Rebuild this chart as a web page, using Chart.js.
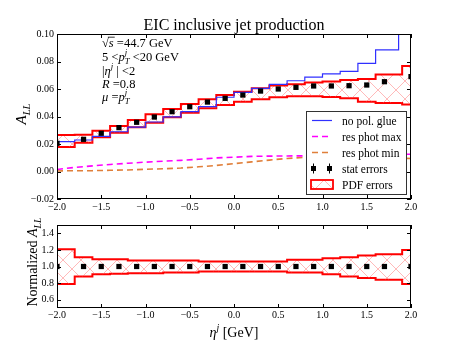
<!DOCTYPE html>
<html>
<head>
<meta charset="utf-8">
<script src="https://cdn.jsdelivr.net/npm/chart.js@4.4.1/dist/chart.umd.min.js"></script>
<style>
  html, body { margin: 0; padding: 0; background: #fff; }
  #wrap { position: relative; width: 457px; height: 343px; }
  #topChart { position: absolute; left: 0; top: 0; }
  #botChart { position: absolute; left: 0; top: 215px; }
</style>
</head>
<body>
<div id="wrap">
  <canvas id="topChart" width="457" height="215"></canvas>
  <canvas id="botChart" width="457" height="128"></canvas>
</div>
<script>
// bin edges of the step histograms (eta^j)
const binEdges  = [-2.0, -1.8, -1.6, -1.4, -1.2, -1.0, -0.8, -0.6, -0.4, -0.2, 0.0, 0.2, 0.4, 0.6, 0.8, 1.0, 1.2, 1.4, 1.6, 1.9, 2.0];
const glueEdges = [-2.0, -1.8, -1.6, -1.4, -1.2, -1.0, -0.8, -0.6, -0.4, -0.2, 0.0, 0.2, 0.4, 0.6, 0.8, 1.0, 1.2, 1.4, 1.6, 1.86, 2.0];

// top panel: A_LL
const pdfUpper  = [0.0265, 0.0267, 0.0297, 0.0331, 0.0375, 0.0416, 0.0455, 0.0491, 0.0525, 0.0556, 0.0580, 0.0605, 0.0625, 0.0635, 0.0648, 0.0655, 0.0665, 0.0672, 0.0705, 0.0768];
const pdfLower  = [0.0178, 0.0210, 0.0249, 0.0282, 0.0321, 0.0355, 0.0394, 0.0428, 0.0460, 0.0484, 0.0508, 0.0525, 0.0540, 0.0547, 0.0547, 0.0542, 0.0532, 0.0508, 0.0498, 0.0488];
const noPolGlue = [0.0217, 0.0229, 0.0255, 0.0289, 0.0323, 0.0360, 0.0398, 0.0435, 0.0472, 0.0540, 0.0575, 0.0605, 0.0634, 0.0660, 0.0686, 0.0710, 0.0728, 0.0787, 0.0884, 0.1300];

const pointX = [-2.0, -1.7, -1.5, -1.3, -1.1, -0.9, -0.7, -0.5, -0.3, -0.1, 0.1, 0.3, 0.5, 0.7, 0.9, 1.1, 1.3, 1.5, 1.7, 2.0];
const pointY = [0.0205, 0.0234, 0.0278, 0.0319, 0.0358, 0.0396, 0.0435, 0.0471, 0.0505, 0.0532, 0.0556, 0.0585, 0.0600, 0.0612, 0.0622, 0.0622, 0.0624, 0.0629, 0.0653, 0.0690];

const photX   = [-2.0, -1.8, -1.6, -1.4, -1.2, -1.0, -0.8, -0.6, -0.4, -0.2, 0.0, 0.2, 0.4, 0.6, 0.8, 1.0, 1.2, 1.4, 1.6, 1.8, 2.0];
const photMax = [0.0015, 0.0030, 0.0041, 0.0051, 0.0060, 0.0068, 0.0075, 0.0081, 0.0089, 0.0099, 0.0104, 0.0110, 0.0112, 0.0113, 0.0114, 0.0116, 0.0118, 0.0120, 0.0122, 0.0124, 0.0126];
const photMin = [0.0004, 0.0006, 0.0006, 0.0009, 0.0011, 0.0016, 0.0020, 0.0025, 0.0034, 0.0044, 0.0057, 0.0070, 0.0083, 0.0095, 0.0103, 0.0106, 0.0106, 0.0104, 0.0101, 0.0098, 0.0095];

// bottom panel: normalized A_LL
const normUpper = [1.208, 1.112, 1.088, 1.088, 1.072, 1.072, 1.072, 1.072, 1.060, 1.060, 1.060, 1.060, 1.060, 1.080, 1.080, 1.100, 1.112, 1.132, 1.148, 1.200];
const normLower = [0.790, 0.880, 0.908, 0.912, 0.920, 0.920, 0.928, 0.928, 0.940, 0.940, 0.940, 0.940, 0.940, 0.928, 0.928, 0.908, 0.880, 0.860, 0.840, 0.788];
const normPoint = [1.0, 1.0, 1.0, 1.0, 1.0, 1.0, 1.0, 1.0, 1.0, 1.0, 1.0, 1.0, 1.0, 1.0, 1.0, 1.0, 1.0, 1.0, 1.0, 1.0];

// tick labels
const xTicks    = [-2.0, -1.5, -1.0, -0.5, 0.0, 0.5, 1.0, 1.5, 2.0];
const yTicksTop = [-0.02, 0.00, 0.02, 0.04, 0.06, 0.08, 0.10];
const yTicksBot = [0.6, 0.8, 1.0, 1.2, 1.4];

const SERIF = '"Liberation Serif", "DejaVu Serif", serif';
const tickFont = { family: SERIF, size: 10 };

// histogram points: value i holds from edge i to edge i+1
function stepPoints(edges, vals) {
  return edges.map((x, i) => ({ x, y: vals[Math.min(i, vals.length - 1)] }));
}
function xy(xs, ys) {
  return xs.map((x, i) => ({ x, y: ys[i] }));
}
function minusSign(s) { return s.replace('-', '\u2212'); }

// matplotlib style 'x' hatch
function makeHatch() {
  const c = document.createElement('canvas');
  c.width = 18; c.height = 18;
  const g = c.getContext('2d');
  g.strokeStyle = 'rgba(255, 90, 90, 0.42)';
  g.lineWidth = 1;
  g.beginPath();
  g.moveTo(0, 0); g.lineTo(18, 18);
  g.moveTo(18, 0); g.lineTo(0, 18);
  g.stroke();
  return g.createPattern(c, 'repeat');
}
const hatch = makeHatch();

// draw rich text (italic, sub/superscript runs); returns width
function textRuns(ctx, x, y, runs, size, draw) {
  let cx = x, prevStart = x, prevEnd = x;
  for (const r of runs) {
    const small = r.sub || r.sup;
    const s = small ? size * 0.7 : size;
    ctx.font = (r.it ? 'italic ' : '') + s + 'px ' + SERIF;
    const w = ctx.measureText(r.t).width;
    const start = r.stack ? prevStart : cx;
    const dy = r.sub ? size * 0.28 : r.sup ? -size * 0.42 : 0;
    if (draw) {
      ctx.fillText(r.t, start, y + dy);
      if (r.over) {
        ctx.fillRect(start - 1, y - size * 0.82, w + 2, 0.8);
      }
    }
    if (r.stack) {
      cx = Math.max(prevEnd, start + w);
    } else {
      prevStart = start; prevEnd = start + w; cx = start + w;
    }
  }
  return cx - x;
}

function setTicks(list) {
  return scale => { scale.ticks = list.map(v => ({ value: v })); };
}

// frame + inward ticks on all four sides
const frameTicks = {
  id: 'frameTicks',
  afterDraw(chart) {
    const { ctx, chartArea: a, scales: { x, y } } = chart;
    ctx.save();
    ctx.strokeStyle = '#000';
    ctx.lineWidth = 1;
    ctx.beginPath();
    x.ticks.forEach(t => {
      const px = Math.round(x.getPixelForValue(t.value)) + 0.5;
      ctx.moveTo(px, a.bottom); ctx.lineTo(px, a.bottom - 4);
      ctx.moveTo(px, a.top); ctx.lineTo(px, a.top + 4);
    });
    y.ticks.forEach(t => {
      const py = Math.round(y.getPixelForValue(t.value)) + 0.5;
      ctx.moveTo(a.left, py); ctx.lineTo(a.left + 4, py);
      ctx.moveTo(a.right, py); ctx.lineTo(a.right - 4, py);
    });
    ctx.stroke();
    ctx.strokeRect(a.left + 0.5, a.top + 0.5, a.right - a.left - 1, a.bottom - a.top - 1);
    ctx.restore();
  }
};

const topExtras = {
  id: 'topExtras',
  afterDraw(chart) {
    const ctx = chart.ctx;
    ctx.save();
    ctx.fillStyle = '#000';
    ctx.textBaseline = 'alphabetic';

    // title
    ctx.font = '16px ' + SERIF;
    ctx.textAlign = 'center';
    ctx.fillText('EIC inclusive jet production', 234, 30);
    ctx.textAlign = 'left';

    // kinematics text
    const fs = 12.5, tx = 102;
    textRuns(ctx, tx, 47, [{ t: '\u221A' }, { t: 's', it: true, over: true }, { t: ' =44.7 GeV' }], fs, true);
    textRuns(ctx, tx, 60.5, [{ t: '5 <' }, { t: 'p', it: true }, { t: 'T', it: true, sub: true }, { t: 'j', it: true, sup: true, stack: true }, { t: ' <20 GeV' }], fs, true);
    textRuns(ctx, tx, 74.5, [{ t: '|' }, { t: '\u03B7', it: true }, { t: 'j', it: true, sup: true }, { t: ' | <2' }], fs, true);
    textRuns(ctx, tx, 87.5, [{ t: 'R', it: true }, { t: ' =0.8' }], fs, true);
    textRuns(ctx, tx, 100.5, [{ t: '\u03BC', it: true }, { t: ' =' }, { t: 'p', it: true }, { t: 'T', it: true, sub: true }, { t: 'j', it: true, sup: true, stack: true }], fs, true);

    // y axis label
    const yl = [{ t: 'A', it: true }, { t: 'LL', it: true, sub: true }];
    const w = textRuns(ctx, 0, 0, yl, 15, false);
    ctx.translate(26, 114);
    ctx.rotate(-Math.PI / 2);
    textRuns(ctx, -w / 2, 0, yl, 15, true);
    ctx.setTransform(1, 0, 0, 1, 0, 0);

    // legend
    const lx = 306.5, ly = 111.5, lw = 100, lh = 83;
    ctx.fillStyle = '#fff';
    ctx.fillRect(lx, ly, lw, lh);
    ctx.strokeStyle = '#333';
    ctx.lineWidth = 1;
    ctx.strokeRect(lx, ly, lw, lh);
    const rows = [120.5, 136.5, 152.5, 168.5, 184.5];
    const labels = ['no pol. glue', 'res phot max', 'res phot min', 'stat errors', 'PDF errors'];
    const hx0 = 312, hx1 = 332;
    ctx.lineWidth = 1.2;
    ctx.strokeStyle = '#3030ff';
    ctx.beginPath(); ctx.moveTo(hx0, rows[0]); ctx.lineTo(hx1, rows[0]); ctx.stroke();
    ctx.lineWidth = 1.6;
    ctx.setLineDash([6, 4]);
    ctx.strokeStyle = '#ff00ff';
    ctx.beginPath(); ctx.moveTo(hx0, rows[1]); ctx.lineTo(hx1, rows[1]); ctx.stroke();
    ctx.strokeStyle = '#e07f3a';
    ctx.beginPath(); ctx.moveTo(hx0, rows[2]); ctx.lineTo(hx1, rows[2]); ctx.stroke();
    ctx.setLineDash([]);
    ctx.fillStyle = '#000';
    ctx.strokeStyle = '#000';
    ctx.lineWidth = 1;
    [313.5, 329.5].forEach(mx => {
      ctx.beginPath(); ctx.moveTo(mx, rows[3] - 5); ctx.lineTo(mx, rows[3] + 5); ctx.stroke();
      ctx.fillRect(mx - 2.5, rows[3] - 2.5, 5, 5);
    });
    ctx.fillStyle = hatch;
    ctx.fillRect(311, 180, 22, 9);
    ctx.strokeStyle = '#ff0000';
    ctx.lineWidth = 1.8;
    ctx.strokeRect(311, 180, 22, 9);
    ctx.fillStyle = '#000';
    ctx.font = '11.5px ' + SERIF;
    labels.forEach((s, i) => ctx.fillText(s, 342, rows[i] + 4));
    ctx.restore();
  }
};

const botExtras = {
  id: 'botExtras',
  afterDraw(chart) {
    const ctx = chart.ctx;
    ctx.save();
    ctx.fillStyle = '#000';
    const yl = [{ t: 'Normalized ' }, { t: 'A', it: true }, { t: 'LL', it: true, sub: true }];
    const w = textRuns(ctx, 0, 0, yl, 14, false);
    ctx.translate(37, 47);
    ctx.rotate(-Math.PI / 2);
    textRuns(ctx, -w / 2, 0, yl, 14, true);
    ctx.setTransform(1, 0, 0, 1, 0, 0);

    const xl = [{ t: '\u03B7', it: true }, { t: 'j', it: true, sup: true }, { t: ' [GeV]' }];
    const wx = textRuns(ctx, 0, 0, xl, 14, false);
    textRuns(ctx, 234 - wx / 2, 122, xl, 14, true);
    ctx.restore();
  }
};

function baseOptions(yMin, yMax, yList, yDigits, padTop, xHeight, xPad) {
  return {
    responsive: false,
    animation: false,
    layout: { padding: { left: 0, right: 46, top: padTop, bottom: 0 } },
    plugins: { legend: { display: false }, tooltip: { enabled: false }, title: { display: false } },
    scales: {
      x: {
        type: 'linear', min: -2, max: 2,
        afterBuildTicks: setTicks(xTicks),
        afterFit: s => { s.height = xHeight; },
        grid: { display: false, drawTicks: false },
        border: { display: false },
        ticks: { font: tickFont, color: '#000', padding: xPad, maxRotation: 0, autoSkip: false,
                 callback: v => minusSign(v.toFixed(1)) }
      },
      y: {
        min: yMin, max: yMax,
        afterBuildTicks: setTicks(yList),
        afterFit: s => { s.width = 57; },
        grid: { display: false, drawTicks: false },
        border: { display: false },
        ticks: { font: tickFont, color: '#000', padding: 3, autoSkip: false,
                 callback: v => minusSign(v.toFixed(yDigits)) }
      }
    }
  };
}

new Chart(document.getElementById('topChart'), {
  type: 'line',
  data: {
    datasets: [
      { label: 'stat errors', data: xy(pointX, pointY), showLine: false, pointStyle: 'rect',
        pointRadius: 3.7, pointBackgroundColor: '#000', pointBorderWidth: 0 },
      { label: 'no pol. glue', data: stepPoints(glueEdges, noPolGlue), stepped: 'before',
        borderColor: '#3030ff', borderWidth: 1.2, pointRadius: 0, fill: false },
      { label: 'res phot max', data: xy(photX, photMax), borderColor: '#ff00ff', borderWidth: 1.6,
        borderDash: [6, 4], pointRadius: 0, fill: false },
      { label: 'res phot min', data: xy(photX, photMin), borderColor: '#e07f3a', borderWidth: 1.6,
        borderDash: [6, 4], pointRadius: 0, fill: false },
      { label: 'PDF errors', data: stepPoints(binEdges, pdfUpper), stepped: 'before',
        borderColor: '#ff0000', borderWidth: 2, pointRadius: 0, fill: '+1', backgroundColor: hatch },
      { label: 'PDF lower', data: stepPoints(binEdges, pdfLower), stepped: 'before',
        borderColor: '#ff0000', borderWidth: 2, pointRadius: 0, fill: false }
    ]
  },
  options: baseOptions(-0.02, 0.10, yTicksTop, 2, 34, 16, 2),
  plugins: [frameTicks, topExtras]
});

new Chart(document.getElementById('botChart'), {
  type: 'line',
  data: {
    datasets: [
      { label: 'stat errors', data: xy(pointX, normPoint), showLine: false, pointStyle: 'rect',
        pointRadius: 3.7, pointBackgroundColor: '#000', pointBorderWidth: 0 },
      { label: 'PDF errors', data: stepPoints(binEdges, normUpper), stepped: 'before',
        borderColor: '#ff0000', borderWidth: 2, pointRadius: 0, fill: '+1', backgroundColor: hatch },
      { label: 'PDF lower', data: stepPoints(binEdges, normLower), stepped: 'before',
        borderColor: '#ff0000', borderWidth: 2, pointRadius: 0, fill: false }
    ]
  },
  options: baseOptions(0.5, 1.5, yTicksBot, 1, 10, 35, 1),
  plugins: [frameTicks, botExtras]
});
</script>
</body>
</html>
